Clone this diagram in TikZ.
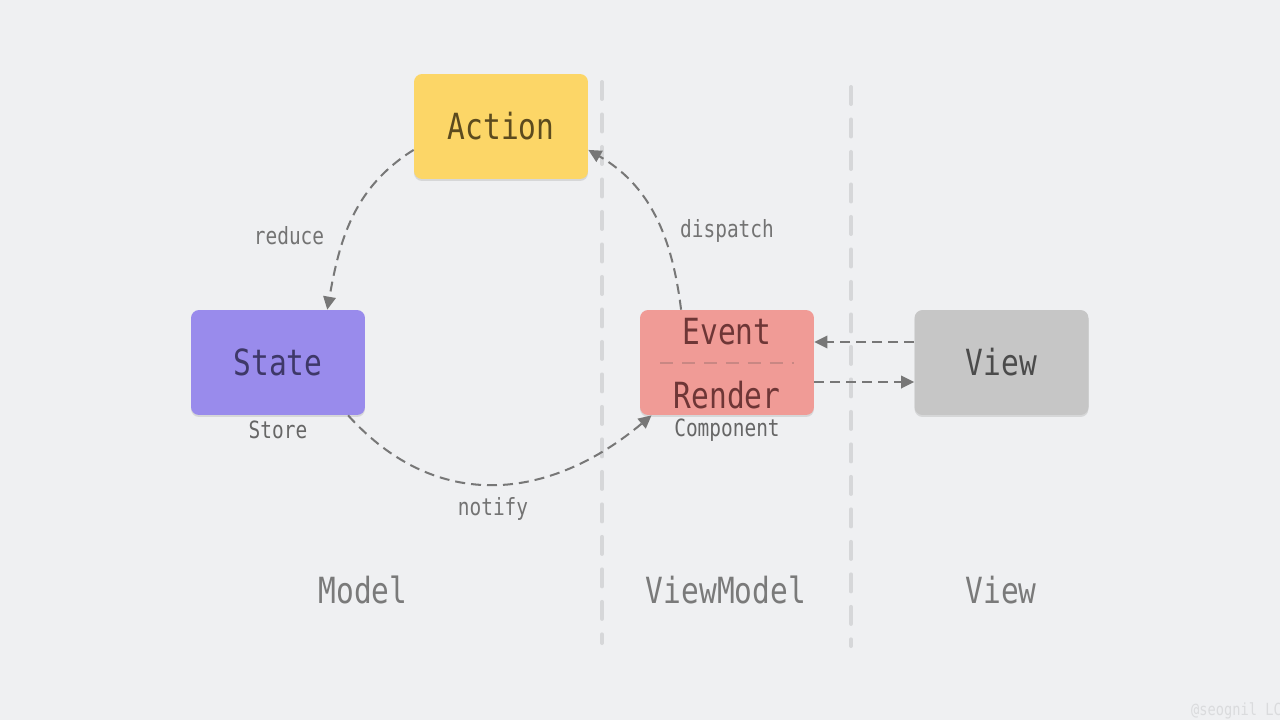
\documentclass[tikz,border=0pt]{standalone}
\usepackage{fontspec}
\setmonofont[FakeStretch=0.82]{DejaVu Sans Mono}
\usetikzlibrary{arrows.meta,shadows}

\definecolor{bgcol}{HTML}{EFF0F2}
\definecolor{linecol}{HTML}{777777}
\definecolor{sepcol}{HTML}{D6D7D9}
\definecolor{labcol}{HTML}{737373}
\definecolor{colcol}{HTML}{7A7A7A}
\definecolor{actfill}{HTML}{FCD667}
\definecolor{acttext}{HTML}{5C4B1E}
\definecolor{stfill}{HTML}{998BEC}
\definecolor{sttext}{HTML}{3E3868}
\definecolor{cpfill}{HTML}{F09B96}
\definecolor{cptext}{HTML}{6E3636}
\definecolor{cpline}{HTML}{C98783}
\definecolor{vwfill}{HTML}{C6C6C6}
\definecolor{vwtext}{HTML}{4B4B4B}
\definecolor{markcol}{HTML}{DADBDD}

\newcommand{\bigtxt}{\ttfamily\fontsize{20.5}{24}\selectfont}
\newcommand{\smalltxt}{\ttfamily\fontsize{13.5}{16}\selectfont}

\begin{document}
\begin{tikzpicture}[x=0.02cm, y=-0.02cm]
    \tikzset{%
      box/.style={rounded corners=0.16cm, minimum width=3.48cm, minimum height=2.1cm,
        inner sep=0pt, font=\bigtxt,
        drop shadow={shadow xshift=0pt, shadow yshift=-0.04cm, opacity=0.22}},
      flow/.style={draw=linecol, line width=1.15pt, dash pattern=on 0.2cm off 0.12cm,
        -{Triangle[length=0.26cm, width=0.25cm]}},
      lab/.style={text=labcol, font=\smalltxt},
      colname/.style={text=colcol, font=\bigtxt},
      sepline/.style={draw=sepcol, line width=0.08cm, line cap=round,
        dash pattern=on 0.34cm off 0.31cm}
      }
    \useasboundingbox [fill=bgcol] (0,0) rectangle (1280,720);

    % columns
    \coordinate (SepAtop) at (602,82);
    \coordinate (SepAbot) at (602,643);
    \coordinate (SepBtop) at (851,87);
    \coordinate (SepBbot) at (851,646);
    \draw [sepline] (SepAtop) -- (SepAbot);
    \draw [sepline] (SepBtop) -- (SepBbot);

    \node [colname] (Mcol) at (363,590) {Model};
    \node [colname] (VMcol) at (726,590) {ViewModel};
    \node [colname] (Vcol) at (1001,590) {View};

    % boxes
    \node [box, fill=actfill, text=acttext] (Action) at (501,126.5) {Action};
    \node [box, fill=stfill, text=sttext] (State) at (278,362.5) {State};
    \node [box, fill=cpfill] (Comp) at (727,362.5) {};
    \node [box, fill=vwfill, text=vwtext] (ViewBox) at (1001.5,362.5) {View};

    \node [text=cptext, font=\bigtxt] (Event) at (727,332) {Event};
    \node [text=cptext, font=\bigtxt] (Render) at (727,395) {Render};
    \coordinate (CompSepL) at (660,363);
    \coordinate (CompSepR) at (794,363);
    \draw [draw=cpline, line width=1pt, dash pattern=on 0.26cm off 0.18cm] (CompSepL) -- (CompSepR);

    \node [lab, text=vwtext!85] (Store) at (278,430) {Store};
    \node [lab, text=vwtext!85] (CompLab) at (727,430) {Component};

    % connectors
    \node [lab] (Reduce) at (289,236) {reduce};
    \node [lab] (Dispatch) at (727,231) {dispatch};
    \node [lab] (Notify) at (493,509) {notify};
    \draw [flow] (Action.195) to [out=212, in=80] (State.47);
    \draw [flow] (Comp.131) to [out=97, in=-30] (Action.-15);
    \draw [flow] (State.-37) to [out=-48, in=220, looseness=1.12] (Comp.215);
    \draw [flow] (ViewBox.west |- 0,342) coordinate (Vout) -- (Comp.east |- Vout);
    \draw [flow] (Comp.east |- 0,382) coordinate (Rout) -- (ViewBox.west |- Rout);

    \node [text=markcol, font=\ttfamily\fontsize{9.5}{11}\selectfont, anchor=east] (Mark) at (1288,711) {@seognil LC};

  \end{tikzpicture}
\end{document}
